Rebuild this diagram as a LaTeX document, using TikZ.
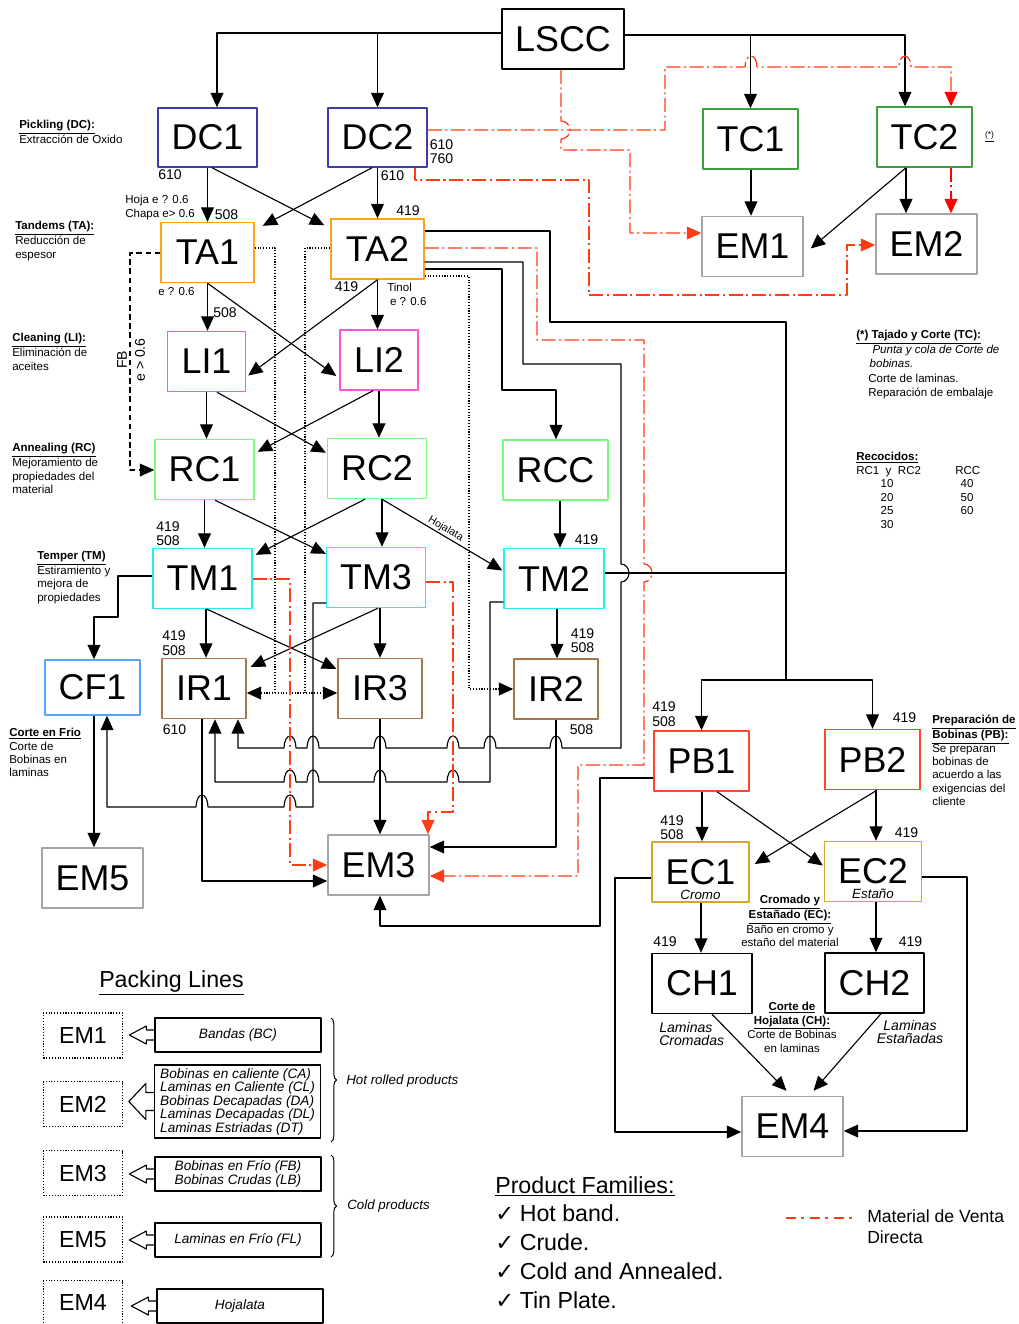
\documentclass[tikz,border=0pt]{standalone}
\usepackage{fontspec}
\setmainfont{Liberation Sans}
\newfontfamily\chkfont{DejaVu Sans}
\usetikzlibrary{arrows.meta,calc,decorations.pathreplacing}

\definecolor{ventared}{RGB}{255,60,20}
\definecolor{dcblue}{RGB}{60,60,170}
\definecolor{tcgreen}{RGB}{60,160,60}
\definecolor{emgray}{RGB}{165,165,165}
\definecolor{taorange}{RGB}{255,160,30}
\definecolor{limag}{RGB}{255,85,220}
\definecolor{rcgreen}{RGB}{125,250,125}
\definecolor{tmcyan}{RGB}{40,235,240}
\definecolor{cfblue}{RGB}{85,165,255}
\definecolor{irbrown}{RGB}{165,120,75}
\definecolor{pbred}{RGB}{255,70,40}
\definecolor{ecgold}{RGB}{215,165,45}
\newcommand{\hdr}[1]{\underline{\textbf{#1}}}

\begin{document}
\begin{tikzpicture}[x=0.025cm, y=-0.025cm, line join=round,
    >={Triangle[length=0.36cm,width=0.32cm]},
    box/.style={draw, line width=1pt, inner sep=0pt, minimum width=2.475cm,
      minimum height=1.5cm, font=\fontsize{25.5}{27}\selectfont},
    num/.style={inner sep=0pt, font=\fontsize{10}{11}\selectfont},
    note/.style={inner sep=0pt, anchor=north west, align=left,
      font=\fontsize{8.2}{9.5}\selectfont},
    ln/.style={line width=0.8pt},
    ar/.style={ln, ->},
    venta/.style={draw=ventared, line width=0.9pt,
      dash pattern=on 10pt off 2.5pt on 1.5pt off 2.5pt},
    var/.style={venta, ->},
    dots/.style={ln, dash pattern=on 0.8pt off 1.2pt},
    pkbox/.style={draw, dash pattern=on 0.8pt off 1.2pt, line width=0.8pt,
      minimum width=1.975cm, minimum height=1.125cm, font=\fontsize{16.5}{18}\selectfont},
    pktxt/.style={draw, line width=0.9pt, minimum width=4.15cm, minimum height=0.85cm,
      inner sep=1pt, align=left, font=\itshape\fontsize{9.7}{9.6}\selectfont}]
\useasboundingbox (0,0) rectangle (1019,1324);

% process boxes
\node[box, minimum width=3.05cm] (LSCC) at (563,39) {LSCC};
\node[box, draw=dcblue, minimum height=1.475cm] (DC1) at (207.5,137.5) {DC1};
\node[box, draw=dcblue, minimum height=1.475cm] (DC2) at (377.5,137.5) {DC2};
\node[box, draw=tcgreen, minimum width=2.375cm] (TC1) at (750.5,139) {TC1};
\node[box, draw=tcgreen, minimum width=2.375cm] (TC2) at (924.5,137) {TC2};
\node[box, draw=emgray, minimum width=2.525cm] (EM1) at (752.5,246.5) {EM1};
\node[box, draw=emgray, minimum width=2.525cm] (EM2) at (926.5,244) {EM2};
\node[box, draw=taorange, minimum width=2.325cm] (TA1) at (207.5,252.5) {TA1};
\node[box, draw=taorange, minimum width=2.325cm] (TA2) at (377.5,249) {TA2};
\node[box, draw=limag, minimum width=1.95cm] (LI1) at (206.5,361.5) {LI1};
\node[box, draw=limag, minimum width=1.95cm] (LI2) at (379,360) {LI2};
\node[box, draw=rcgreen] (RC1) at (204.5,469.5) {RC1};
\node[box, draw=rcgreen] (RC2) at (377,468.5) {RC2};
\node[box, draw=rcgreen, minimum width=2.625cm] (RCC) at (555.5,470) {RCC};
\node[box, draw=tmcyan] (TM1) at (202.5,578.5) {TM1};
\node[box, draw=tmcyan] (TM3) at (376,577.5) {TM3};
\node[box, draw=tmcyan, minimum width=2.5cm] (TM2) at (554,578.5) {TM2};
\node[box, draw=cfblue, minimum width=2.375cm, minimum height=1.375cm] (CF1) at (92.5,687.5) {CF1};
\node[box, draw=irbrown, minimum width=2.1cm] (IR1) at (204,688.5) {IR1};
\node[box, draw=irbrown, minimum width=2.1cm] (IR3) at (380,688.5) {IR3};
\node[box, draw=irbrown, minimum width=2.1cm] (IR2) at (556,689) {IR2};
\node[box, draw=emgray, minimum width=2.525cm] (EM5) at (92.5,878) {EM5};
\node[box, draw=emgray, minimum width=2.525cm] (EM3) at (378.5,865) {EM3};
\node[box, draw=pbred, minimum width=2.375cm] (PB1) at (701.5,761) {PB1};
\node[box, draw=pbred, minimum width=2.375cm] (PB2) at (872.5,759.5) {PB2};
\node[box, draw=ecgold, minimum width=2.425cm] (EC1) at (700.5,872) {EC1};
\node[box, draw=ecgold, minimum width=2.425cm] (EC2) at (873,871.5) {EC2};
\node[box, minimum width=2.5cm] (CH1) at (702,983.5) {CH1};
\node[box, minimum width=2.475cm] (CH2) at (874.5,983) {CH2};
\node[box, draw=emgray, minimum width=2.525cm] (EM4) at (792.5,1126.5) {EM4};
\node[inner sep=0pt, font=\itshape\fontsize{9.5}{10}\selectfont] (cromo) at ($(EC1.south)+(0,-8)$) {Cromo};
\node[inner sep=0pt, font=\itshape\fontsize{9.5}{10}\selectfont] (estano) at ($(EC2.south)+(0,-8)$) {Estaño};

% supply from LSCC
\draw[ar] (LSCC.west |- 0,33) -| (DC1.north -| 217,0);
\draw[ar] (DC2.north |- 0,33) -- (DC2.north);
\draw[ar] (LSCC.east |- 0,35) -| (TC2.north -| 905,0);
\draw[ar] (TC1.north |- 0,35) -- (TC1.north);
\draw[ar] (TC1.south -| 751,0) -- (EM1.north -| 751,0);
\draw[ar] (TC2.south -| 906,0) -- (EM2.north -| 906,0);
\draw[ar] (TC2.south -| 906,0) -- ($(EM1.east)+(7,2)$);

% cold line
\draw[ar] (DC1.south) -- (TA1.north);
\draw[ar] (DC1.south -| 212,0) -- ($(TA2.north west)+(-6,7)$);
\draw[ar] (DC2.south -| 372,0) -- ($(TA1.north east)+(8,4)$);
\draw[ar] (DC2.south) -- (TA2.north);
\draw[ar] (TA1.south) -- (TA1.south |- LI1.north);
\draw[ar] (TA1.south) -- ($(LI2.west)+(-3,16)$);
\draw[ar] (TA2.south) -- ($(LI1.east)+(2,14)$);
\draw[ar] (TA2.south) -- (TA2.south |- LI2.north);
\draw[ar] (LI1.south) -- (LI1.south |- RC1.north);
\draw[ar] (LI1.south -| 217,0) -- ($(RC2.north west)+(-1,15)$);
\draw[ar] (LI2.south -| 373,0) -- ($(RC1.north east)+(3,13)$);
\draw[ar] (LI2.south) -- (LI2.south |- RC2.north);
\draw[ar] (RC1.south) -- (RC1.south |- TM1.north);
\draw[ar] (RC1.south -| 215,0) -- ($(TM3.north west)+(0,7)$);
\draw[ar] (RC2.south -| 365,0) -- ($(TM1.north east)+(3,7)$);
\draw[ar] (RC2.south -| 382,0) -- (TM3.north -| 382,0);
\draw[ar] (RC2.south -| 382,0) -- node[pos=0.5, sloped, above=1pt, inner sep=0pt,
  font=\fontsize{7.5}{8}\selectfont] (hoj) {Hojalata} ($(TM2.west)+(-1,-8)$);
\draw[ar] (RCC.south -| 560,0) -- (TM2.north -| 560,0);
\draw[ar] (TA2.east |- 0,269) -| (502,390) -| (RCC.north -| 556,0);

% to coil preparation
\coordinate (pbj) at (786,680);
\draw[ln] (TA2.east |- 0,231) -| (550,322) -| (pbj);
\draw[ln] (TM2.east |- 0,573) -- (pbj |- 0,573);
\draw[ar] (pbj) -| (PB1.north);
\draw[ar] (pbj) -| (PB2.north);

% returns to IR1 and CF1
\draw[ar] (TA2.east |- 0,262) -| (523,364) -| (621,564)
  arc[start angle=-90,end angle=90,x radius=8,y radius=9] -- (621,748)
  foreach \x in {556,490,453,380,313,290}
  {-- (\x+6,748) arc[start angle=0,end angle=-180,x radius=6,y radius=12]}
  -| (IR1.south -| 238,0);
\draw[ar] (TM2.west |- 0,602) -| (490,782)
  foreach \x in {453,380,313,290}
  {-- (\x+6,782) arc[start angle=0,end angle=-180,x radius=6,y radius=12]}
  -| (IR1.south -| 215,0);
\draw[ar] (TM3.west |- 0,603) -| (313,807)
  foreach \x in {290,202}
  {-- (\x+6,807) arc[start angle=0,end angle=-180,x radius=6,y radius=12]}
  -| (CF1.south -| 107,0);

\draw[ar] (TM1.west |- 0,576) -| (118,617) -| (CF1.north -| 94,0);
\draw[ar] (CF1.south -| 94,0) -- (EM5.north -| 94,0);
\draw[ar] (TM1.south -| 206,0) -- (IR1.north -| 206,0);
\draw[ar] (TM1.south -| 207,0) -- ($(IR3.north west)+(-1,11)$);
\draw[ar] (TM3.south -| 378,0) -- ($(IR1.north east)+(4,9)$);
\draw[ar] (TM3.south -| 380,0) -- (IR3.north);
\draw[ar] (TM2.south -| 557,0) -- (IR2.north -| 557,0);
\draw[ar] (IR1.south -| 202,0) |- (EM3.west |- 0,881);
\draw[ar] (IR3.south) -- (IR3.south |- EM3.north);
\draw[ar] (IR2.south) |- (EM3.east |- 0,847);
\draw[ar] (PB1.west |- 0,778) -| (600,926) -| (EM3.south -| 380,0);

% dotted and dashed routes
\draw[dots] (TA1.east |- 0,248) -| (275,693);
\draw[dots] (TA2.west |- 0,248) -| (305,693);
\draw[dots, <->] (IR1.east |- 0,693) -- (IR3.west |- 0,693);
\draw[dots, ->] (TA2.east |- 0,276) -| (469,689) -- (IR2.west |- 0,689);
\draw[ln, dash pattern=on 4pt off 2.5pt, ->] (TA1.west |- 0,253) -| (130,470) -- (RC1.west |- 0,470);

% tin plate
\draw[ar] (PB1.south -| 702,0) -- (EC1.north -| 702,0);
\draw[ar] (PB1.south -| 717,0) -- ($(EC2.west)+(-1,-6)$);
\draw[ar] (PB2.south -| 877,0) -- ($(EC1.east)+(5,-8)$);
\draw[ar] (PB2.south -| 876,0) -- (EC2.north -| 876,0);
\draw[ar] (EC1.south -| 701,0) -- (CH1.north -| 701,0);
\draw[ar] (EC2.south -| 876,0) -- (CH2.north -| 876,0);
\draw[ar] (EC1.west |- 0,878) -| (615,1132) -- (EM4.west |- 0,1132);
\draw[ar] (EC2.east |- 0,877) -| (967,1131) -- (EM4.east |- 0,1131);
\draw[ar] (CH1.south -| 712,0) -- ($(EM4.north)+(-6,-5)$);
\draw[ar] (CH2.south -| 881,0) -- ($(EM4.north)+(21,-5)$);

% direct sale material
\draw[var, -{Triangle[length=0.36cm,width=0.32cm,color=red]}] (DC2.east |- 0,130) -| (665,67)
  foreach \x in {751,905}
  {-- (\x-6,67) arc[start angle=180,end angle=360,x radius=6,y radius=11]}
  -| (TC2.north -| 951,0);
\draw[var, draw=red] (TC2.south -| 951,0) -- (EM2.north -| 951,0);
\draw[var] (LSCC.south -| 561,0) -- (561,121)
  arc[start angle=-90,end angle=90,x radius=9,y radius=9] -- (561,150)
  -| (630,233) -- (EM1.west |- 0,233);
\draw[var] (DC2.south -| 415,0) |- (589,180) |- (847,295) |- (EM2.west |- 0,245);
\draw[var] (TA2.east |- 0,248) -| (537,340) -| (644,564)
  arc[start angle=-90,end angle=90,x radius=8,y radius=9]
  |- (578,765) |- (EM3.east |- 0,876);
\draw[var] (TM1.east |- 0,579) -| (290,865) -- (EM3.west |- 0,865);
\draw[var] (TM3.east |- 0,582) -| (453,812) -| (EM3.north -| 428,0);

% numbers
\foreach \p/\t [count=\i] in {{170,175}/610, {392.5,176}/610, {441.5,145}/610,
    {441.5,159}/760, {226.5,215}/508, {408,211}/419, {225,313}/508, {346.5,287}/419,
    {168,527}/419, {168,541}/508, {586.5,540}/419, {174,636}/419, {174,651}/508,
    {174.5,730}/610, {582.5,634}/419, {582.5,648}/508, {581.5,730}/508, {664,707}/419,
    {664,722}/508, {904.5,718}/419, {672,821}/419, {672,835}/508, {906.5,833}/419,
    {665,942}/419, {910.5,942}/419}
  \node[num] (n\i) at (\p) {\t};
\node[note] (hoja) at (125,195) {Hoja e ? 0.6\\Chapa e> 0.6};
\node[note, anchor=center] (ele) at (176.5,292) {e ? 0.6};
\node[note, font=\fontsize{8.2}{10}\selectfont] (tinol) at (387,283) {Tinol\\\hspace{2pt}e ? 0.6};
\node[rotate=90, inner sep=0pt, font=\fontsize{10}{11}\selectfont] (fb) at (122,360) {FB};
\node[rotate=90, inner sep=0pt, font=\fontsize{10}{11}\selectfont] (fbe) at (140,360) {e > 0.6};
\node[inner sep=0pt, font=\fontsize{6}{7}\selectfont] (star) at (989.5,137) {\underline{(*)}};

% side notes
\node[note] (nDC) at (19,120) {\hdr{Pickling (DC):}\\Extracción de Oxido};
\node[note] (nTA) at (15,221) {\hdr{Tandems (TA):}\\Reducción de\\espesor};
\node[note] (nLI) at (12,333) {\hdr{Cleaning (LI):}\\Eliminación de\\aceites};
\node[note] (nRC) at (12,443) {\hdr{Annealing (RC)}\\Mejoramiento de\\propiedades del\\material};
\node[note] (nTM) at (37,551) {\hdr{Temper (TM)}\\Estiramiento y\\mejora de\\propiedades};
\node[note] (nCF) at (9,728) {\hdr{Corte en Frio}\\Corte de\\Bobinas en\\laminas};
\node[note] (nTC) at (856,330) {\hdr{(*) Tajado y Corte (TC):}};
\node[note, font=\fontsize{8.2}{10.2}\selectfont] (nTCb) at (868,345)
  {\hspace{3pt}\textit{Punta y cola de Corte de}\\\hspace{1pt}\textit{bobinas.}\\Corte de laminas.\\Reparación de embalaje};
\node[note] (nRec) at (856,452) {\hdr{Recocidos:}\\RC1\ \ y\ \ RC2};
\node[note, anchor=west] (nRcc) at (955,471) {RCC};
\foreach \v [count=\i] in {10,20,25,30}
  \node[note, anchor=center] (ra\i) at (887,{470.5+13.4*\i}) {\v};
\foreach \v [count=\i] in {40,50,60}
  \node[note, anchor=center] (rb\i) at (967,{470.5+13.4*\i}) {\v};
\node[note] (nPB) at (932,715) {\hdr{Preparación de}\\\hdr{Bobinas (PB):}\\Se preparan\\bobinas de\\acuerdo a las\\exigencias del\\cliente};
\node[note, anchor=north, align=center] (nEC) at (790,895) {\hdr{Cromado y}\\\hdr{Estañado (EC):}\\Baño en cromo y\\estaño del material};
\node[note, anchor=north, align=center] (nCH) at (792,1002) {\hdr{Corte de}\\\hdr{Hojalata (CH):}\\Corte de Bobinas\\en laminas};
\node[note, font=\itshape\fontsize{10}{9.5}\selectfont] (lcr) at (659,1022) {Laminas\\Cromadas};
\node[note, anchor=north, align=center, font=\itshape\fontsize{10}{9.5}\selectfont] (les) at (910,1020) {Laminas\\Estañadas};

% packing lines
\node[anchor=base, inner sep=0pt, font=\fontsize{16.5}{18}\selectfont] (pack) at (171.5,987) {\underline{Packing Lines}};
\foreach \n/\y/\t in {p1/1035.5/EM1, p2/1104/EM2, p3/1173/EM3, p5/1239.5/EM5, p4/1303/EM4}
  \node[pkbox] (\n) at (83,\y) {\t};
\node[pktxt] (t1) at (238,1035) {Bandas (BC)};
\node[pktxt, minimum height=1.825cm] (t2) at (237.5,1101.5) {Bobinas en caliente (CA)\\Laminas en Caliente (CL)\\Bobinas Decapadas (DA)\\Laminas Decapadas (DL)\\Laminas Estriadas (DT)};
\node[pktxt] (t3) at (238,1174) {Bobinas en Frío (FB)\\Bobinas Crudas (LB)};
\node[pktxt] (t5) at (238,1240) {Laminas en Frío (FL)};
\node[pktxt] (t4) at (240,1306) {Hojalata};
\foreach \n/\s/\h in {t1/5/9, t2/9/18, t3/5/9, t5/5/9, t4/5/9}
  \draw[line width=0.8pt] (\n.west) ++(0,\s) -- ++(-8,0) -- ++(0,\h-\s) -- ++(-17,-\h)
    -- ++(17,-\h) -- ++(0,\h-\s) -- ++(8,0);
\draw[decorate, decoration={brace, amplitude=4pt}, line width=0.7pt] (331,1018) -- (331,1142);
\draw[decorate, decoration={brace, amplitude=4pt}, line width=0.7pt] (331,1155) -- (331,1257);
\node[anchor=west, inner sep=0pt, font=\itshape\fontsize{9.5}{11}\selectfont] (hot) at (346,1081) {Hot rolled products};
\node[anchor=west, inner sep=0pt, font=\itshape\fontsize{9.5}{11}\selectfont] (cold) at (347,1206) {Cold products};

% product families and legend
\node[anchor=base west, inner sep=0pt, font=\fontsize{16.5}{18}\selectfont] (fam) at (495,1193) {\underline{Product Families:}};
\foreach \t [count=\i] in {Hot band.,Crude.,Cold and Annealed.,Tin Plate.}
  \node[anchor=west, inner sep=0pt, font=\fontsize{16.5}{18}\selectfont] (fam\i) at (495,{1184+29*\i})
    {{\chkfont\fontsize{16}{17}\selectfont ✓}\hspace{4pt}\t};
\draw[draw=ventared, line width=1.5pt, dash pattern=on 7pt off 4pt on 2pt off 4pt] (786,1218) -- (857,1218);
\node[anchor=north west, align=left, inner sep=0pt, font=\fontsize{12.5}{15.6}\selectfont] (leg) at (867,1209) {Material de Venta\\Directa};
\end{tikzpicture}
\end{document}
